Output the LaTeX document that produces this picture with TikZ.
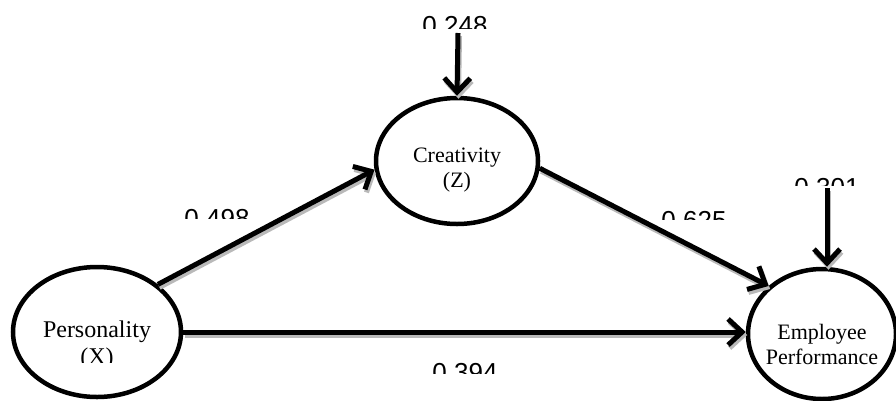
\documentclass[tikz,border=0pt]{standalone}
\usepackage{fontspec}
\setmainfont{Liberation Serif}
\newfontfamily\numfont{Liberation Sans}
\usetikzlibrary{arrows.meta,shapes.geometric}

\tikzset{
  var/.style={ellipse,draw,line width=4.5pt,fill=white,inner sep=0pt},
  vtxt/.style={align=center,inner sep=0pt,font=\fontsize{22}{25}\selectfont},
  effect/.style={line width=5pt,-{Straight Barb[length=14pt,width=26pt]}},
  coef/.style={anchor=base,inner sep=0pt,font=\numfont\fontsize{26}{26}\selectfont}
}
% arrow with its grey shadow
\newcommand\link[2]{%
  \draw[effect,gray!55] ([shift={(1.5,3)}]#1) -- ([shift={(1.5,3)}]#2);
  \draw[effect] (#1) -- (#2);}

\begin{document}
\begin{tikzpicture}[x=1pt,y=-1pt]
\useasboundingbox (0,0) rectangle (896,400);

% variables
\node[var,minimum width=162pt,minimum height=126pt] (crea) at (457,161) {};
\node[var,minimum width=168pt,minimum height=130pt] (pers) at (97,332) {};
\node[var,minimum width=148pt,minimum height=130pt] (emp) at (822,334) {};

% error terms
\coordinate (err-z) at (458,33);
\coordinate (err-y) at (827,188);

% paths
\link{err-z}{crea.north}
\link{err-y}{err-y |- emp.north}
\link{pers.38}{crea.186}
\link{crea.-5}{emp.138}
\link{pers.east}{pers.east -| emp.west}

% texts (cut off as in the text boxes)
\begin{scope}
\clip (400,0) rectangle (520,28)
      (770,160) rectangle (880,185)
      (170,195) rectangle (265,218)
      (650,195) rectangle (745,219)
      (420,350) rectangle (510,373)
      (20,300) rectangle (175,362);
\node[coef] (c-z) at (455,34) {0.248};
\node[coef] (c-y) at (827,196) {0.301};
\node[coef] (c-xz) at (217,227) {0.498};
\node[coef] (c-zy) at (694,229) {0.625};
\node[coef] (c-xy) at (465,381) {0.394};
\node[vtxt,font=\fontsize{24}{27}\selectfont] (pers-t) at (97,345) {Personality\\(X)};
\end{scope}
\node[vtxt] (crea-t) at (457,170) {Creativity\\(Z)};
\node[vtxt] (emp-t) at (822,344) {Employee\\Performance};

\end{tikzpicture}
\end{document}
